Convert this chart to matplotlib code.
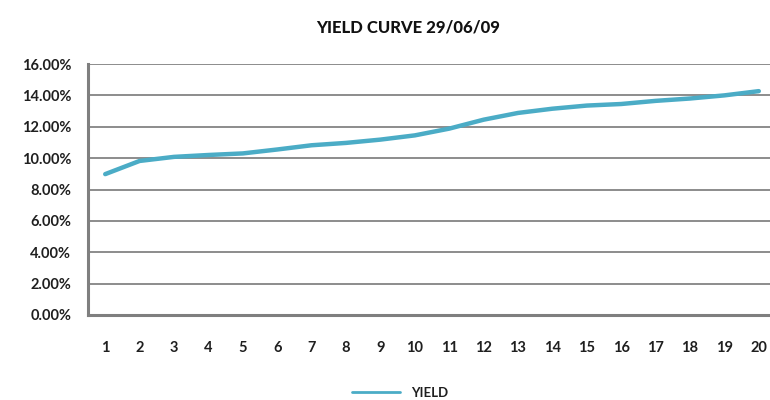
import matplotlib
matplotlib.use('Agg')
import matplotlib.pyplot as plt
from matplotlib.ticker import PercentFormatter

# Yield curve data (maturity in years vs yield %)
maturity = list(range(1, 21))
yields = [8.98, 9.82, 10.08, 10.20, 10.30, 10.55, 10.82, 10.97, 11.18, 11.45,
          11.88, 12.45, 12.88, 13.15, 13.35, 13.45, 13.65, 13.80, 14.00, 14.27]
yticks = [0, 2, 4, 6, 8, 10, 12, 14, 16]

plt.rcParams['font.family'] = ['Lato', 'DejaVu Sans']

fig = plt.figure(figsize=(7.7, 4.0), dpi=100)
ax = fig.add_axes([0.1143, 0.2125, 0.8935, 0.6275])

ax.plot(maturity, yields, color='#4BACC6', linewidth=3.2, solid_capstyle='round',
        solid_joinstyle='round', label='YIELD')

ax.set_xlim(0.5, 20.5)
ax.set_ylim(0, 16)
ax.set_xticks(maturity)
ax.set_yticks(yticks)
ax.yaxis.set_major_formatter(PercentFormatter(decimals=2))
ax.grid(axis='y', color='#8c8c8c', linewidth=1.4)
ax.set_axisbelow(True)

for side in ['top', 'right']:
    ax.spines[side].set_visible(False)
for side in ['left', 'bottom']:
    ax.spines[side].set_color('#7f7f7f')
    ax.spines[side].set_linewidth(2.2)

ax.tick_params(axis='x', length=0, pad=19, labelsize=10.5, labelcolor='#1f1f1f')
ax.tick_params(axis='y', length=0, pad=12, labelsize=10.5, labelcolor='#1f1f1f')
for lbl in ax.get_xticklabels() + ax.get_yticklabels():
    lbl.set_fontweight('bold')

fig.text(0.53, 0.932, 'YIELD CURVE 29/06/09', ha='center', va='center',
         fontsize=12, fontweight='black', color='#111111')

leg = fig.legend(loc='center', bbox_to_anchor=(0.52, 0.018), frameon=False,
                 handlelength=3.6, handletextpad=0.9,
                 prop={'size': 9.5, 'weight': 'bold'})
for t in leg.get_texts():
    t.set_color('#1f1f1f')
for h in leg.get_lines():
    h.set_linewidth(2.0)

fig.savefig('out.png', dpi=100)
